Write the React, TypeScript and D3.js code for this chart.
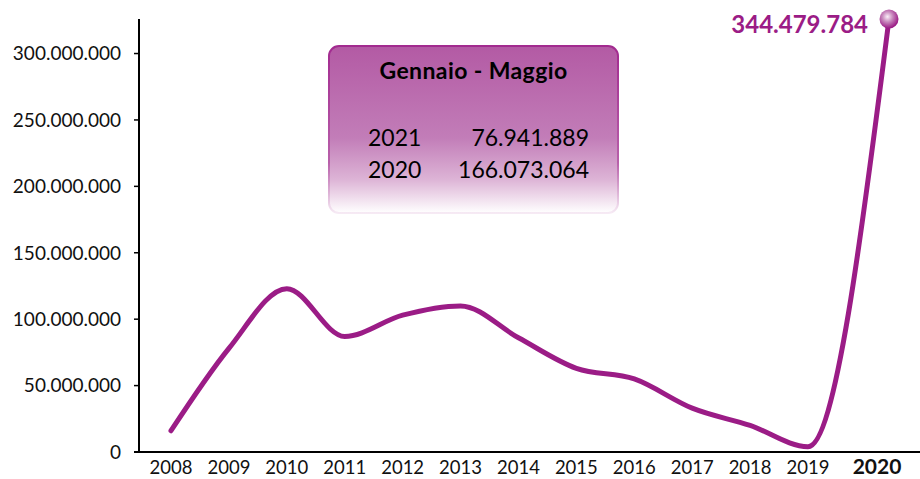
import React from "react";
import * as d3 from "d3";

const years = [2008, 2009, 2010, 2011, 2012, 2013, 2014, 2015, 2016, 2017, 2018, 2019, 2020];
const values = [16e6, 78e6, 123e6, 87e6, 103e6, 110e6, 86e6, 63e6, 55e6, 33e6, 20e6, 4e6, 344479784];
const yTicks = [0, 50e6, 100e6, 150e6, 200e6, 250e6, 300e6];
const axisMax = 326e6;
const boxTitle = "Gennaio - Maggio";
const boxYears = ["2021", "2020"];
const boxValues = [76941889, 166073064];

const W = 920;
const H = 479;
const PURPLE = "#9B1C86";
const FONT = "Lato, 'Noto Sans', sans-serif";

const locale = d3.formatLocale({ decimal: ",", thousands: ".", grouping: [3], currency: ["", "€"] });
const fmt = locale.format(",d");

export default function App() {
  const x = d3.scaleLinear().domain([2008, 2019, 2020]).range([171, 808, 889]);
  const y = d3.scaleLinear().domain([0, axisMax]).range([452, 19]).clamp(true);
  const pts: [number, number][] = years.map((yr, i) => [x(yr), y(values[i])]);
  const line = d3.line().curve(d3.curveMonotoneX)(pts) || "";
  const last = pts[pts.length - 1];

  const bx = 329, by = 46, bw = 289, bh = 167;

  return (
    <div style={{ position: "absolute", left: 0, top: 0 }}>
      <svg width={W} height={H} style={{ display: "block", background: "#fff" }} fontFamily={FONT}>
        <defs>
          <linearGradient id="boxFill" x1="0" y1="0" x2="0" y2="1">
            <stop offset="0" stopColor="#B35AA4" />
            <stop offset="0.55" stopColor="#C27DB8" />
            <stop offset="0.8" stopColor="#DDB4D6" />
            <stop offset="1" stopColor="#FFFFFF" />
          </linearGradient>
          <linearGradient id="boxStroke" x1="0" y1="0" x2="0" y2="1">
            <stop offset="0" stopColor="#A22A8F" />
            <stop offset="0.7" stopColor="#B860AA" />
            <stop offset="1" stopColor="#F6EAF4" />
          </linearGradient>
          <radialGradient id="ball" cx="0.42" cy="0.38" r="0.6">
            <stop offset="0" stopColor="#FBEFF8" />
            <stop offset="0.45" stopColor="#C98ABE" />
            <stop offset="1" stopColor="#9B1C86" />
          </radialGradient>
        </defs>

        {/* info box */}
        <rect x={bx} y={by} width={bw} height={bh} rx={10} ry={10} fill="url(#boxFill)" stroke="url(#boxStroke)" strokeWidth={2} />
        <text x={bx + bw / 2} y={79} textAnchor="middle" fontSize={23} fontWeight="bold" letterSpacing={0.4} fill="#000">{boxTitle}</text>
        {boxYears.map((yr, i) => (
          <g key={yr}>
            <text x={368} y={146 + i * 32} fontSize={23} fill="#000">{yr}</text>
            <text x={589} y={146 + i * 32} fontSize={23} fill="#000" textAnchor="end">{fmt(boxValues[i])}</text>
          </g>
        ))}

        {/* y axis */}
        <line x1={139} x2={139} y1={19} y2={453} stroke="#000" strokeWidth={2} />
        {yTicks.map((t) => (
          <g key={t}>
            <line x1={134} x2={139} y1={y(t)} y2={y(t)} stroke="#000" strokeWidth={1.5} />
            <text x={121} y={y(t)} dy="0.36em" textAnchor="end" fontSize={19} fill="#111">{fmt(t)}</text>
          </g>
        ))}

        {/* x axis */}
        <line x1={134} x2={920} y1={452} y2={452} stroke="#000" strokeWidth={2} />
        {years.map((yr, i) => {
          const isLast = i === years.length - 1;
          return (
            <text key={yr} x={x(yr) - (isLast ? 12 : 0)} y={isLast ? 474 : 474} textAnchor="middle"
              fontSize={isLast ? 21 : 18.5} fontWeight={isLast ? "bold" : "normal"} fill="#111">{yr}</text>
          );
        })}

        {/* series */}
        <path d={line} fill="none" stroke={PURPLE} strokeWidth={5} strokeLinecap="round" strokeLinejoin="round" />
        <circle cx={last[0]} cy={last[1]} r={9.5} fill="url(#ball)" />
        <text x={868} y={33} textAnchor="end" fontSize={24} fontWeight="bold" fill={PURPLE}>{fmt(values[values.length - 1])}</text>
      </svg>
    </div>
  );
}
